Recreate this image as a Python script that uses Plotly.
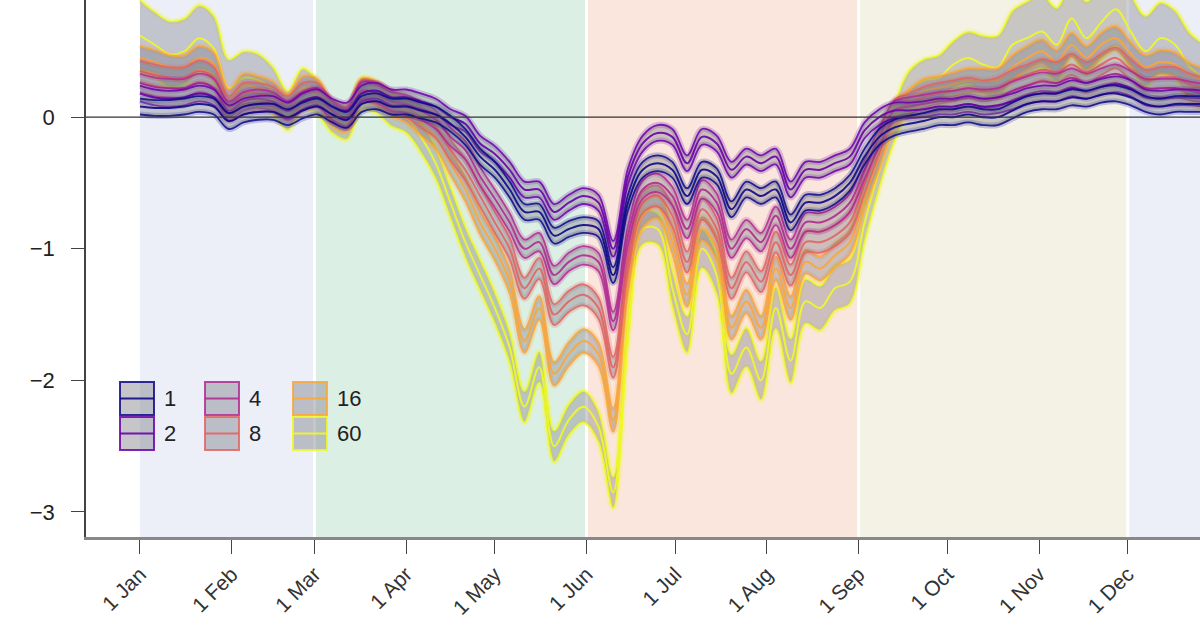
import pandas as pd
import plotly.graph_objects as go

# 5-day sampling from 1 Jan
dates = pd.date_range("2021-01-01", periods=73, freq="5D")

s1 = [0.08, 0.07, 0.07, 0.08, 0.10, 0.08, -0.03, 0.02, 0.04, 0.04, 0.00, 0.05,
      0.08, 0.02, -0.02, 0.10, 0.12, 0.08, 0.08, 0.05, 0.02, -0.05, -0.15, -0.30,
      -0.40, -0.55, -0.72, -0.72, -0.90, -0.85, -0.82, -0.85, -1.20, -0.65, -0.40, -0.35,
      -0.40, -0.60, -0.40, -0.45, -0.70, -0.55, -0.60, -0.55, -0.80, -0.65, -0.65, -0.60,
      -0.50, -0.30, -0.15, -0.08, -0.05, -0.03, 0.00, 0.00, 0.02, 0.00, 0.00, 0.05,
      0.10, 0.12, 0.12, 0.15, 0.14, 0.17, 0.18, 0.15, 0.10, 0.08, 0.10, 0.10, 0.10]

s2 = [0.18, 0.15, 0.14, 0.15, 0.18, 0.15, 0.03, 0.08, 0.10, 0.10, 0.05, 0.12,
      0.15, 0.08, 0.05, 0.18, 0.20, 0.15, 0.15, 0.12, 0.08, 0.00, -0.05, -0.20,
      -0.28, -0.40, -0.55, -0.55, -0.72, -0.65, -0.60, -0.65, -1.00, -0.45, -0.20, -0.12,
      -0.15, -0.35, -0.15, -0.20, -0.40, -0.30, -0.35, -0.30, -0.55, -0.40, -0.40, -0.35,
      -0.30, -0.10, 0.00, 0.05, 0.05, 0.06, 0.08, 0.08, 0.10, 0.08, 0.09, 0.12,
      0.16, 0.18, 0.18, 0.22, 0.20, 0.23, 0.25, 0.22, 0.15, 0.14, 0.15, 0.15, 0.14]

s4 = [0.26, 0.23, 0.22, 0.22, 0.26, 0.22, 0.05, 0.12, 0.14, 0.12, 0.05, 0.12,
      0.15, 0.05, 0.00, 0.20, 0.18, 0.12, 0.10, 0.05, -0.02, -0.15, -0.25, -0.45,
      -0.62, -0.80, -1.00, -0.95, -1.20, -1.10, -1.05, -1.10, -1.55, -0.90, -0.55, -0.50,
      -0.60, -0.85, -0.55, -0.65, -1.00, -0.85, -0.95, -0.75, -1.00, -0.80, -0.80, -0.75,
      -0.65, -0.40, -0.15, 0.05, 0.08, 0.10, 0.12, 0.13, 0.15, 0.14, 0.15, 0.20,
      0.24, 0.27, 0.26, 0.30, 0.26, 0.30, 0.33, 0.28, 0.22, 0.22, 0.22, 0.20, 0.18]

s8 = [0.35, 0.32, 0.30, 0.30, 0.35, 0.30, 0.08, 0.18, 0.18, 0.15, 0.08, 0.18,
      0.18, 0.05, 0.00, 0.20, 0.18, 0.12, 0.08, 0.00, -0.08, -0.25, -0.40, -0.60,
      -0.80, -1.00, -1.30, -1.15, -1.50, -1.40, -1.35, -1.45, -1.90, -1.10, -0.65, -0.60,
      -0.75, -1.10, -0.70, -0.85, -1.30, -1.10, -1.25, -0.95, -1.20, -0.95, -0.95, -0.90,
      -0.80, -0.50, -0.20, 0.05, 0.10, 0.15, 0.18, 0.20, 0.22, 0.20, 0.22, 0.28,
      0.32, 0.36, 0.34, 0.40, 0.34, 0.40, 0.45, 0.36, 0.28, 0.30, 0.30, 0.25, 0.22]

s16 = [0.45, 0.42, 0.38, 0.38, 0.45, 0.40, 0.12, 0.24, 0.22, 0.18, 0.08, 0.22,
       0.20, 0.02, -0.02, 0.20, 0.18, 0.10, 0.05, -0.05, -0.15, -0.35, -0.55, -0.80,
       -1.00, -1.25, -1.70, -1.45, -1.95, -1.80, -1.70, -1.80, -2.30, -1.25, -0.75, -0.68,
       -0.95, -1.35, -0.85, -1.00, -1.60, -1.40, -1.60, -1.15, -1.45, -1.10, -1.15, -1.05,
       -0.95, -0.60, -0.30, 0.00, 0.12, 0.20, 0.22, 0.25, 0.28, 0.28, 0.28, 0.38,
       0.45, 0.50, 0.42, 0.55, 0.45, 0.55, 0.60, 0.48, 0.38, 0.42, 0.40, 0.32, 0.28]

s60 = [0.62, 0.55, 0.48, 0.50, 0.60, 0.52, 0.22, 0.30, 0.28, 0.20, 0.05, 0.22,
       0.15, 0.00, -0.05, 0.18, 0.15, 0.05, 0.00, -0.15, -0.35, -0.65, -0.95, -1.20,
       -1.45, -1.75, -2.20, -1.90, -2.50, -2.30, -2.20, -2.35, -2.85, -1.60, -0.85, -0.85,
       -1.30, -1.65, -1.00, -1.20, -1.95, -1.75, -2.00, -1.45, -1.85, -1.40, -1.45, -1.30,
       -1.25, -0.80, -0.40, -0.05, 0.20, 0.28, 0.30, 0.40, 0.45, 0.40, 0.38, 0.55,
       0.60, 0.65, 0.55, 0.75, 0.60, 0.72, 0.82, 0.65, 0.50, 0.60, 0.55, 0.38, 0.30]

# band half-widths
hw60 = [0.27, 0.25, 0.25, 0.25, 0.25, 0.25, 0.22, 0.20, 0.20, 0.18, 0.15, 0.15,
        0.13, 0.12, 0.12, 0.12, 0.12, 0.12, 0.12, 0.12, 0.12, 0.12, 0.12, 0.12,
        0.12, 0.12, 0.12, 0.12, 0.12, 0.12, 0.12, 0.12, 0.12, 0.12, 0.12, 0.12,
        0.14, 0.14, 0.15, 0.15, 0.15, 0.15, 0.15, 0.16, 0.17, 0.17, 0.17, 0.17,
        0.17, 0.15, 0.14, 0.14, 0.15, 0.16, 0.17, 0.18, 0.20, 0.22, 0.24, 0.26,
        0.28, 0.28, 0.28, 0.28, 0.28, 0.28, 0.28, 0.28, 0.27, 0.27, 0.26, 0.26, 0.25]

names = ["1", "2", "4", "8", "16", "60"]
colors = ["#0d0887", "#6a00a8", "#b12a90", "#e16462", "#fca636", "#f0f921"]
values = [s1, s2, s4, s8, s16, s60]
halfw = [0.06, 0.06, 0.07, 0.08, 0.09, hw60]

seasons = [("2021-01-01", "2021-03-01", "#eceff8"),
           ("2021-03-01", "2021-06-01", "#dcefe5"),
           ("2021-06-01", "2021-09-01", "#fae6dc"),
           ("2021-09-01", "2021-12-01", "#f4f2e5"),
           ("2021-12-01", "2022-01-01", "#eceff8")]

month_ticks = pd.date_range("2021-01-01", periods=12, freq="MS")


def rgba(h, a):
    h = h.lstrip("#")
    return "rgba(%d,%d,%d,%s)" % (int(h[0:2], 16), int(h[2:4], 16), int(h[4:6], 16), a)


fig = go.Figure()

# draw most extreme first so smaller windows sit on top
for name, vals, hw, col in reversed(list(zip(names, values, halfw, colors))):
    hws = hw if isinstance(hw, list) else [hw] * len(vals)
    up = [v + h for v, h in zip(vals, hws)]
    lo = [v - h for v, h in zip(vals, hws)]
    for edge in (up, lo):
        fig.add_trace(go.Scatter(x=dates, y=edge, mode="lines", hoverinfo="skip", showlegend=False,
                                 line=dict(color=rgba(col, 0.22), width=6, shape="spline")))
    fig.add_trace(go.Scatter(x=dates, y=up, mode="lines", showlegend=False,
                             line=dict(color=rgba(col, 0.85), width=1.8, shape="spline")))
    fig.add_trace(go.Scatter(x=dates, y=lo, mode="lines", showlegend=False, fill="tonexty",
                             fillcolor="rgba(120,120,132,0.36)",
                             line=dict(color=rgba(col, 0.85), width=1.8, shape="spline")))
    fig.add_trace(go.Scatter(x=dates, y=vals, mode="lines", name=name, showlegend=False,
                             line=dict(color=rgba(col, 0.9), width=2, shape="spline")))

shapes = []
for a, b, c in seasons:
    shapes.append(dict(type="rect", xref="x", yref="paper", x0=a, x1=b, y0=0, y1=1,
                       fillcolor=c, line=dict(width=0), layer="below"))
for a, b, c in seasons[1:]:
    shapes.append(dict(type="line", xref="x", yref="paper", x0=a, x1=a, y0=0, y1=1,
                       line=dict(color="white", width=3), layer="below"))
shapes.append(dict(type="line", xref="paper", yref="y", x0=0, x1=1, y0=0, y1=0,
                   line=dict(color="#333", width=1.2), layer="above"))

# hand-drawn legend, 3 columns x 2 rows (page pixels -> paper)
L, W, B, H = 86, 1114, 537, 537


def px(x):
    return (x - L) / W


def py(y):
    return (B - y) / H


annotations = []
spots = [(120, 382), (120, 417), (205, 382), (205, 417), (293, 382), (293, 417)]
for (x, y), name, col in zip(spots, names, colors):
    shapes.append(dict(type="rect", xref="paper", yref="paper", x0=px(x), x1=px(x + 34),
                       y0=py(y + 33), y1=py(y), fillcolor="rgba(150,150,158,0.55)",
                       line=dict(color=rgba(col, 0.85), width=2), layer="above"))
    shapes.append(dict(type="line", xref="paper", yref="paper", x0=px(x), x1=px(x + 34),
                       y0=py(y + 16.5), y1=py(y + 16.5),
                       line=dict(color=rgba(col, 0.9), width=2), layer="above"))
    annotations.append(dict(xref="paper", yref="paper", x=px(x + 42), y=py(y + 16.5),
                            text=name, showarrow=False, xanchor="left", yanchor="middle",
                            font=dict(size=22, color="#222")))

fig.update_layout(
    width=1200, height=630,
    margin=dict(l=86, r=0, t=0, b=93, pad=0),
    paper_bgcolor="white", plot_bgcolor="white",
    font=dict(family="Liberation Sans, Arial, sans-serif", color="#222"),
    shapes=shapes, annotations=annotations, showlegend=False,
    xaxis=dict(range=["2020-12-13 18:00", "2021-12-25 10:00"], tickvals=month_ticks,
               tickformat="%-d %b", tickangle=-45, ticks="outside", ticklen=14,
               tickcolor="#444", tickwidth=1.2, showline=True, linecolor="#888",
               linewidth=2.5, showgrid=False, zeroline=False, automargin=False,
               tickfont=dict(size=21, color="#333")),
    yaxis=dict(range=[-3.19, 0.89], tickvals=[-3, -2, -1, 0], ticks="outside", ticklen=13,
               tickcolor="#444", tickwidth=1.2, showline=True, linecolor="#444",
               linewidth=1.5, showgrid=False, zeroline=False, automargin=False,
               ticklabelstandoff=12, tickfont=dict(size=22, color="#222")),
)

# drop the default page margin so the figure sits at the window corner
fig.write_html("out.html", config={"displayModeBar": False},
               post_script="document.body.style.margin='0';")
